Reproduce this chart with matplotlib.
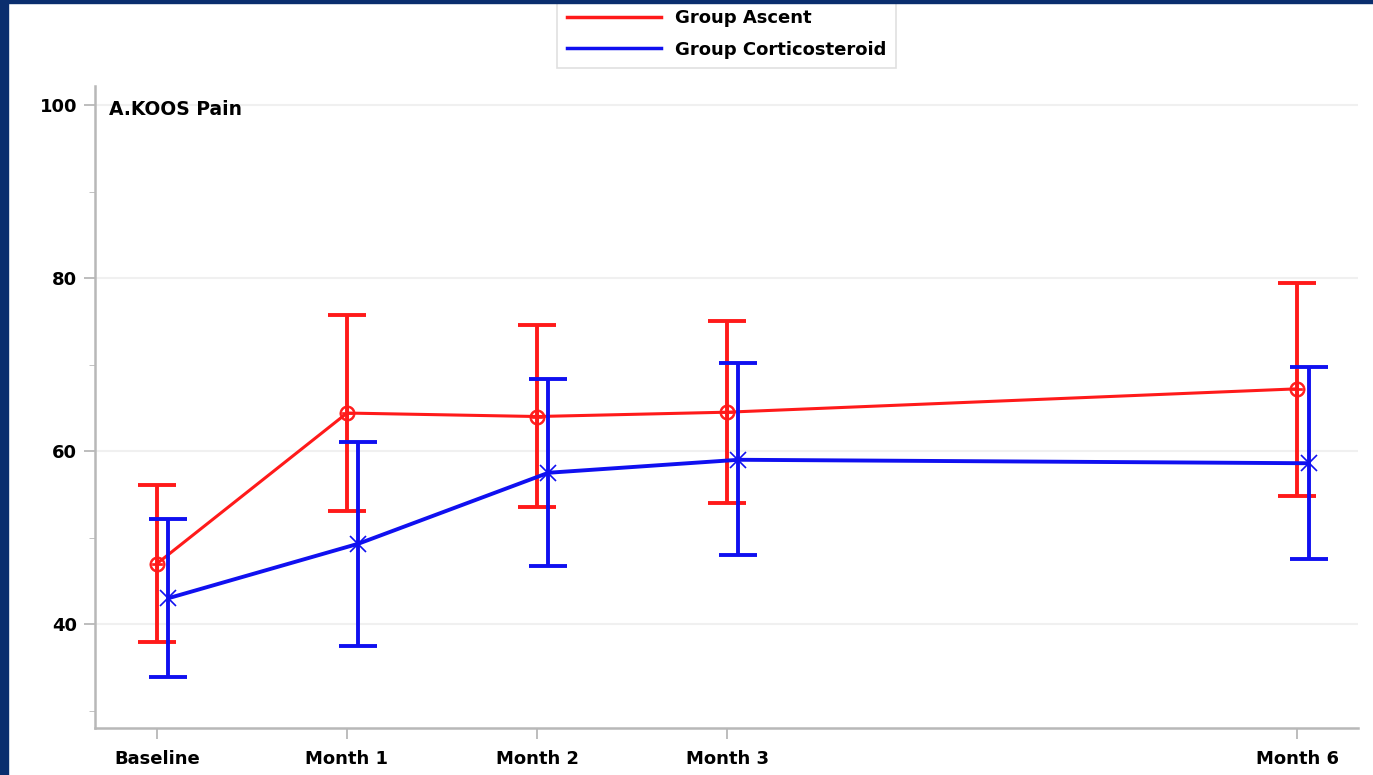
import numpy as np
import matplotlib.pyplot as plt
from matplotlib.patches import Rectangle
from matplotlib.lines import Line2D
from matplotlib.ticker import MultipleLocator

# visit months and labels
months = [0, 1, 2, 3, 6]
month_labels = ['Baseline', 'Month 1', 'Month 2', 'Month 3', 'Month 6']

# KOOS pain, Group Ascent (mean, lower, upper)
ascent_mean = [47.0, 64.4, 64.0, 64.5, 67.2]
ascent_low = [37.9, 53.1, 53.5, 54.0, 54.8]
ascent_high = [56.1, 75.7, 74.6, 75.0, 79.4]

# KOOS pain, Group Corticosteroid (mean, lower, upper)
cortico_mean = [43.0, 49.3, 57.5, 59.0, 58.6]
cortico_low = [33.9, 37.5, 46.7, 48.0, 47.5]
cortico_high = [52.2, 61.0, 68.3, 70.2, 69.7]

plt.rcParams['font.family'] = 'DejaVu Sans'

RED = '#ff1a1a'
BLUE = '#1010f0'

fig = plt.figure(figsize=(13.73, 7.75), dpi=100)
ax = fig.add_axes([95 / 1373, 1 - 728 / 775, (1358 - 95) / 1373, (728 - 86) / 775])

x = np.array(months, dtype=float)
x_blue = x + 0.06

a_mean = np.array(ascent_mean)
a_err = [a_mean - np.array(ascent_low), np.array(ascent_high) - a_mean]
c_mean = np.array(cortico_mean)
c_err = [c_mean - np.array(cortico_low), np.array(cortico_high) - c_mean]

# error bars
ax.errorbar(x, a_mean, yerr=a_err, fmt='none', ecolor=RED, elinewidth=2.8,
            capsize=14, capthick=2.8, zorder=3)
ax.errorbar(x_blue, c_mean, yerr=c_err, fmt='none', ecolor=BLUE, elinewidth=2.8,
            capsize=14, capthick=2.8, zorder=4)

# mean lines with markers
ax.plot(x, a_mean, color=RED, lw=2.2, marker=r'$\oplus$', markersize=11,
        markeredgewidth=0.5, zorder=3)
ax.plot(x_blue, c_mean, color=BLUE, lw=2.8, marker='x', markersize=11,
        markeredgewidth=1.2, zorder=4)

ax.set_xlim(-0.326, 6.32)
ax.set_ylim(28, 102.2)
ax.set_xticks(months)
ax.set_xticklabels(month_labels, fontsize=13, fontweight='bold')
ax.set_yticks([40, 60, 80, 100])
ax.yaxis.set_minor_locator(MultipleLocator(10))
ax.tick_params(axis='y', labelsize=13, length=8, width=1.3, color='#b8b8b8', pad=5)
ax.tick_params(axis='y', which='minor', length=4, color='#b8b8b8')
ax.tick_params(axis='x', length=8, width=1.3, color='#b8b8b8', pad=8)
for lab in ax.get_yticklabels():
    lab.set_fontweight('bold')

ax.grid(axis='y', which='major', color='#f0f0f0', lw=1.5, zorder=0)
ax.spines['top'].set_visible(False)
ax.spines['right'].set_visible(False)
for side in ('left', 'bottom'):
    ax.spines[side].set_color('#b8b8b8')
    ax.spines[side].set_linewidth(1.8)

ax.text(0.011, 0.963, 'A.KOOS Pain', transform=ax.transAxes, fontsize=13.5,
        fontweight='bold', ha='left', va='center')

# legend: lines only
handles = [Line2D([], [], color=RED, lw=2.5),
           Line2D([], [], color=BLUE, lw=2.5)]
leg = fig.legend(handles, ['Group Ascent', 'Group Corticosteroid'],
                 loc='upper center', bbox_to_anchor=(726.5 / 1373, 1 + 10 / 775),
                 fancybox=False, frameon=True, edgecolor='#d8d8d8',
                 prop={'size': 13, 'weight': 'bold'}, handlelength=5.2,
                 labelspacing=0.75, borderpad=0.55, handletextpad=0.8)
leg.get_frame().set_linewidth(1.2)

# dark blue slide border on the left and top
border = '#0a2e6e'
fig.patches.append(Rectangle((0, 0), 8 / 1373, 1, transform=fig.transFigure,
                             color=border, zorder=10))
fig.patches.append(Rectangle((0, 1 - 3 / 775), 1, 3 / 775, transform=fig.transFigure,
                             color=border, zorder=10))

fig.savefig('out.png', dpi=100)
